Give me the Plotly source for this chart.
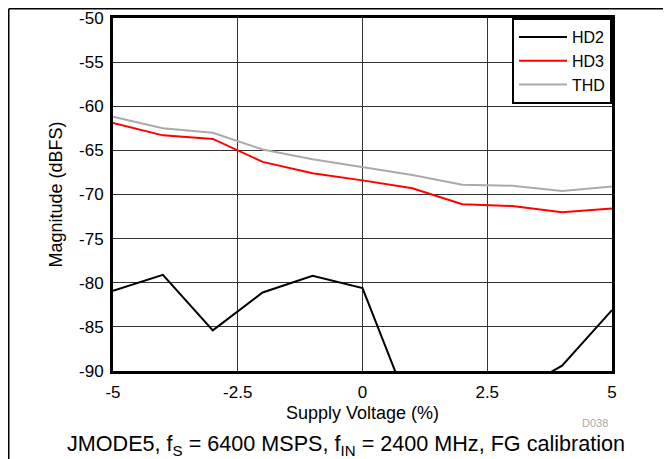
import plotly.graph_objects as go

supply_pct = [-5, -4, -3, -2, -1, 0, 1, 2, 3, 4, 5]
hd2 = [-80.9, -79.1, -85.4, -81.1, -79.2, -80.6, -95.0, -96.0, -92.6, -89.4, -83.1]
hd3 = [-61.9, -63.3, -63.7, -66.3, -67.6, -68.4, -69.3, -71.1, -71.3, -72.0, -71.6]
thd = [-61.2, -62.5, -63.0, -64.9, -66.0, -66.9, -67.8, -68.9, -69.0, -69.6, -69.1]

x_ticks = [-5, -2.5, 0, 2.5, 5]
x_tick_text = ['-5', '-2.5', '0', '2.5', '5']
y_ticks = [-90, -85, -80, -75, -70, -65, -60, -55, -50]
y_tick_text = ['-90', '-85', '-80', '-75', '-70', '-65', '-60', '-55', '-50']

fig = go.Figure()
fig.add_trace(go.Scatter(x=supply_pct, y=hd2, name='HD2', mode='lines',
                         line=dict(color='black', width=2)))
fig.add_trace(go.Scatter(x=supply_pct, y=hd3, name='HD3', mode='lines',
                         line=dict(color='#ff0000', width=2)))
fig.add_trace(go.Scatter(x=supply_pct, y=thd, name='THD', mode='lines',
                         line=dict(color='#aaaaaa', width=2)))

fig.update_xaxes(range=[-5, 5], tickvals=x_ticks, ticktext=x_tick_text,
                 showgrid=True, gridcolor='#333333', gridwidth=1,
                 showline=True, linecolor='black', linewidth=3, mirror=True,
                 zeroline=False, ticks='outside', ticklen=4, tickcolor='rgba(0,0,0,0)',
                 automargin=False, tickfont=dict(size=17))
fig.update_yaxes(range=[-90, -50], tickvals=y_ticks, ticktext=y_tick_text,
                 showgrid=True, gridcolor='#333333', gridwidth=1,
                 showline=True, linecolor='black', linewidth=3, mirror=True,
                 zeroline=False, ticks='outside', ticklen=3, tickcolor='rgba(0,0,0,0)',
                 automargin=False, tickfont=dict(size=17))

# axis titles
fig.add_annotation(text='Supply Voltage (%)', xref='paper', yref='paper', x=0.5, y=-0.118,
                   xanchor='center', yanchor='middle', showarrow=False, font=dict(size=18))
fig.add_annotation(text='Magnitude (dBFS)', xref='paper', yref='paper', x=-0.1162, y=0.5,
                   xanchor='center', yanchor='middle', textangle=-90, showarrow=False,
                   font=dict(size=18))

# outer frame (only top and left edge visible), drawn at the figure edge
fig.add_shape(type='line', xref='paper', yref='paper', x0=-0.2089, x1=1.2, y0=1.0262, y1=1.0262,
              line=dict(color='black', width=1.5))
fig.add_shape(type='line', xref='paper', yref='paper', x0=-0.2089, x1=-0.2089, y0=-0.3, y1=1.0262,
              line=dict(color='black', width=1.5))

fig.add_annotation(text='D038', xref='paper', yref='paper', x=0.966, y=-0.147,
                   xanchor='center', yanchor='middle', showarrow=False,
                   font=dict(size=11, color='#aaaaaa'))
fig.add_annotation(text='JMODE5, f<sub>S</sub> = 6400 MSPS, f<sub>IN</sub> = 2400 MHz, FG calibration',
                   xref='paper', yref='paper', x=0.466, y=-0.21,
                   xanchor='center', yanchor='middle', showarrow=False,
                   font=dict(size=21.6, color='black'))

# page body has an 8px margin, so the figure is offset by 8px
fig.update_layout(width=663, height=451,
                  margin=dict(l=105, r=59, t=10, b=88, autoexpand=False),
                  plot_bgcolor='white', paper_bgcolor='white',
                  font=dict(family='Liberation Sans, Arial, sans-serif', color='black'),
                  showlegend=True,
                  legend=dict(x=1, y=1, xanchor='right', yanchor='top',
                              bordercolor='black', borderwidth=2, bgcolor='white',
                              font=dict(size=16), itemwidth=48, tracegroupgap=0))
fig.write_html("out.html")
